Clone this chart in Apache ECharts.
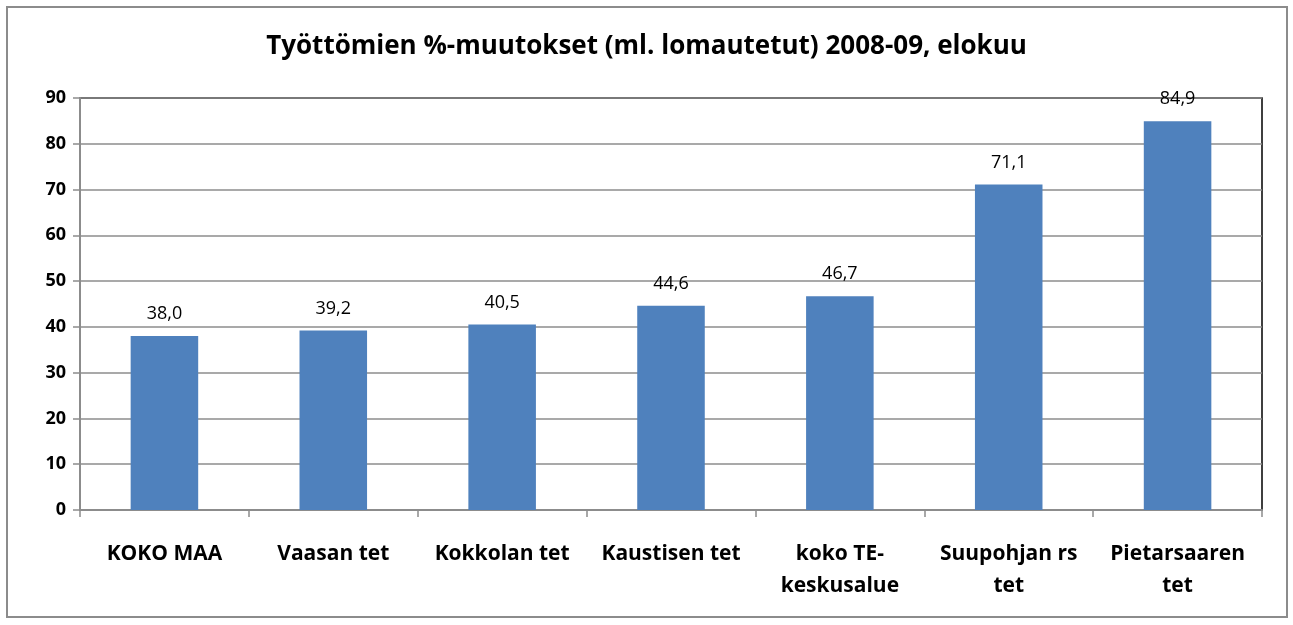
<!DOCTYPE html>
<html>
<head>
<meta charset="utf-8">
<script src="https://cdn.jsdelivr.net/npm/echarts@6/dist/echarts.min.js"></script>
<style>
  html, body { margin: 0; padding: 0; background: #fff; }
  #frame {
    position: absolute; left: 6px; top: 6px; width: 1282px; height: 612px;
    border: 2px solid #8c8c8c; box-sizing: border-box;
  }
  #chart { position: absolute; left: 0; top: 0; width: 1293px; height: 625px; }
</style>
</head>
<body>
<div id="frame"></div>
<div id="chart"></div>
<script>
;(function () {
  const titleText = 'Työttömien %-muutokset (ml. lomautetut) 2008-09, elokuu'
  const categories = [
    'KOKO MAA',
    'Vaasan tet',
    'Kokkolan tet',
    'Kaustisen tet',
    'koko TE-\nkeskusalue',
    'Suupohjan rs\ntet',
    'Pietarsaaren\ntet'
  ]
  const values = [38.0, 39.2, 40.5, 44.6, 46.7, 71.1, 84.9]

  const font = '"Open Sans", "Noto Sans", sans-serif'
  const chart = echarts.init(document.getElementById('chart'))

  const option = {
    animation: false,
    title: {
      text: titleText,
      left: 'center',
      top: 29,
      textStyle: { fontFamily: font, fontSize: 26, fontWeight: 'bold', color: '#000' }
    },
    grid: {
      left: 80, right: 31, top: 98, bottom: 115,
      show: true, borderColor: '#000', borderWidth: 1.5, backgroundColor: 'transparent'
    },
    xAxis: {
      type: 'category',
      data: categories,
      axisLine: { lineStyle: { color: '#8c8c8c', width: 2 } },
      axisTick: { show: true, length: 7, lineStyle: { color: '#8c8c8c', width: 1.5 } },
      axisLabel: {
        interval: 0, margin: 28, fontFamily: font, fontSize: 21, fontWeight: 'bold',
        color: '#000', lineHeight: 32
      }
    },
    yAxis: {
      type: 'value',
      min: 0, max: 90, interval: 10,
      axisLine: { show: true, lineStyle: { color: '#8c8c8c', width: 2 } },
      axisTick: { show: true, length: 7, lineStyle: { color: '#8c8c8c', width: 1.5 } },
      axisLabel: { margin: 14, fontFamily: font, fontSize: 18, fontWeight: 'bold', color: '#000' },
      splitLine: { lineStyle: { color: '#8c8c8c', width: 1.5 } }
    },
    series: [
      {
        type: 'bar',
        data: values,
        barWidth: '40%',
        itemStyle: { color: '#4f81bd' },
        label: {
          show: true,
          position: 'top',
          distance: 13,
          fontFamily: font,
          fontSize: 18,
          color: '#000',
          formatter: (p) => p.value.toFixed(1).replace('.', ',')
        }
      }
    ]
  }

  chart.setOption(option)
})()
</script>
</body>
</html>
